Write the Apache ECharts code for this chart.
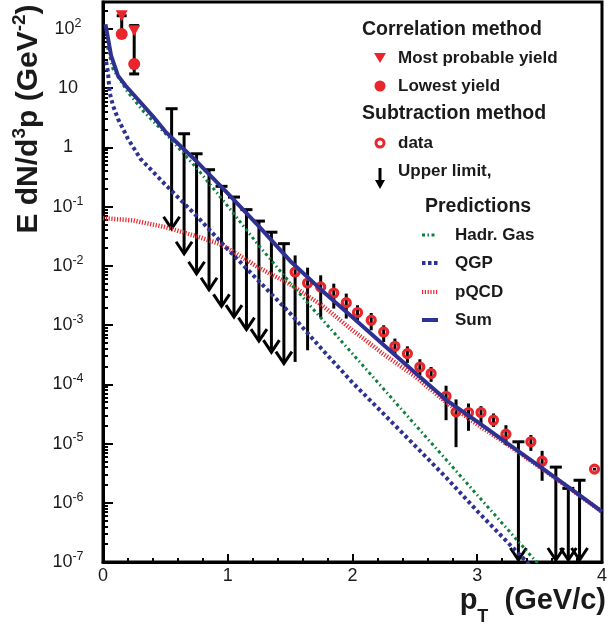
<!DOCTYPE html>
<html><head><meta charset="utf-8">
<script src="https://cdn.jsdelivr.net/npm/echarts@6/dist/echarts.min.js"></script>
<style>html,body{margin:0;padding:0;background:#fff}#c{width:610px;height:626px}</style>
</head><body><div id="c"></div>
<script>
// ---------------- data ----------------
const xTickLabels = ['0', '1', '2', '3', '4'];
const yTickExponents = [-7, -6, -5, -4, -3, -2, -1, 0, 1, 2];

// Correlation method
const corrPt = [0.15, 0.25];
const corrMostProbable = [167, 93.6];
const corrLowest = [82.4, 25.7];
const corrErrLow = [82.4, 17.4];
const corrErrHigh = [167, 114];

// Subtraction method: upper limits
const ulPt = [0.55, 0.65, 0.75, 0.85, 0.95, 1.05, 1.15, 1.25, 1.35, 1.45, 3.33, 3.63, 3.73, 3.82];
const ulVal = [4.5, 1.7, 0.78, 0.42, 0.22, 0.145, 0.089, 0.057, 0.037, 0.0237, 1.07e-5, 4.0e-6, 1.75e-6, 2.4e-6];

// Subtraction method: data
const subPt = [1.54, 1.64, 1.745, 1.85, 1.95, 2.04, 2.15, 2.25, 2.34, 2.44, 2.54, 2.63, 2.75, 2.83, 2.93, 3.03, 3.13, 3.23, 3.43, 3.52, 3.94];
const subVal = [7.87e-3, 5.13e-3, 4.40e-3, 3.48e-3, 2.39e-3, 1.63e-3, 1.21e-3, 7.66e-4, 4.38e-4, 3.30e-4, 1.96e-4, 1.52e-4, 6.29e-5, 3.43e-5, 3.34e-5, 3.34e-5, 2.48e-5, 1.44e-5, 1.07e-5, 5.04e-6, 3.70e-6];
const subErrLow = [2.39e-4, 3.76e-4, 1.34e-3, 1.90e-3, 1.29e-3, 1.13e-3, 8.17e-4, 5.19e-4, 3.10e-4, 2.30e-4, 1.42e-4, 1.10e-4, 2.48e-5, 8.69e-6, 1.64e-5, 2.18e-5, 1.91e-5, 9.4e-6, 7.53e-6, 2.35e-6, 3.5e-6];
const subErrHigh = [1.50e-2, 9.33e-3, 6.92e-3, 5.01e-3, 3.40e-3, 2.16e-3, 1.60e-3, 9.93e-4, 5.91e-4, 4.38e-4, 2.65e-4, 1.96e-4, 9.46e-5, 5.56e-5, 4.74e-5, 4.28e-5, 3.22e-5, 2.04e-5, 1.39e-5, 7.53e-6, 3.9e-6];

// Predictions
const hadrPt = [0.035, 0.08, 0.2, 0.33, 0.5, 0.75, 1.0, 1.25, 1.5, 1.75, 2.0, 2.25, 2.5, 2.75, 3.0, 3.25, 3.5, 3.6];
const hadrVal = [50, 21.1, 8.53, 3.93, 1.72, 0.45, 0.102, 0.0219, 5.16e-3, 1.30e-3, 3.28e-4, 8.30e-5, 2.10e-5, 5.36e-6, 1.35e-6, 3.43e-7, 8.7e-8, 5e-8];

const qgpPt = [0.025, 0.04, 0.053, 0.08, 0.12, 0.2, 0.3, 0.5, 0.75, 1.0, 1.25, 1.5, 1.75, 2.0, 2.25, 2.5, 2.75, 3.0, 3.25, 3.5];
const qgpVal = [28, 18.5, 8.5, 5.09, 3.04, 1.40, 0.643, 0.235, 0.0697, 0.019, 5.5e-3, 1.58e-3, 4.02e-4, 1.07e-4, 3.16e-5, 9.25e-6, 2.68e-6, 7.24e-7, 2.08e-7, 6e-8];

const pqcdPt = [0.0, 0.24, 0.5, 0.77, 0.93, 1.0, 1.24, 1.5, 1.75, 2.0, 2.25, 2.5, 2.75, 3.0, 3.25, 3.5, 3.75, 4.0];
const pqcdVal = [0.064, 0.0585, 0.0451, 0.0306, 0.0237, 0.0198, 9.55e-3, 4.87e-3, 2.20e-3, 8.2e-4, 3.22e-4, 1.37e-4, 5.0e-5, 2.1e-5, 9.4e-6, 4.0e-6, 1.7e-6, 7.0e-7];

const sumPt = [0.02, 0.065, 0.12, 0.18, 0.3, 0.4, 0.5, 0.75, 1.0, 1.25, 1.5, 1.75, 2.0, 2.25, 2.5, 2.75, 3.0, 3.25, 3.5, 3.75, 4.0];
const sumVal = [120, 35.5, 16.3, 11.1, 5.78, 3.35, 1.85, 0.583, 0.167, 0.0463, 0.0121, 3.93e-3, 1.35e-3, 4.63e-4, 1.59e-4, 5.48e-5, 2.34e-5, 9.82e-6, 4.11e-6, 1.72e-6, 7.1e-7];

// ---------------- style ----------------
const FONT = '"Liberation Sans", Arial, Helvetica, sans-serif';
const RED = '#e8262b', BLUE = '#2e3192', GREEN = '#0f7f3f', INK = '#1a1a1a';
const Y_MIN = 1e-7, Y_MAX = 285;

const zip = (a, b) => a.map((v, i) => [v, b[i]]);
const minorY = [];
yTickExponents.forEach(e => { for (let m = 2; m <= 9; m++) { const v = m * Math.pow(10, e); if (v < Y_MAX) minorY.push(v); } });

function yLabel(v) {
  const l = Math.log10(v), e = Math.round(l);
  if (Math.abs(l - e) > 1e-6 || yTickExponents.indexOf(e) < 0) return '';
  if (e === 0) return '{b|1}';
  if (e === 1) return '{b|10}';
  return '{b|10}{s|' + e + '}';
}

const chart = echarts.init(document.getElementById('c'));

function renderErr(params, api) {
  const x = api.value(0);
  const a = api.coord([x, api.value(1)]);
  const b = api.coord([x, api.value(2)]);
  const cap = api.value(3);
  const st = { stroke: '#000', lineWidth: 3, fill: null };
  const ch = [{ type: 'line', shape: { x1: a[0], y1: a[1], x2: b[0], y2: b[1] }, style: st }];
  if (cap > 0) {
    ch.push({ type: 'line', shape: { x1: a[0] - cap, y1: a[1], x2: a[0] + cap, y2: a[1] }, style: st });
    ch.push({ type: 'line', shape: { x1: b[0] - cap, y1: b[1], x2: b[0] + cap, y2: b[1] }, style: st });
  }
  return { type: 'group', children: ch };
}

function renderUL(params, api) {
  const p = api.coord([api.value(0), api.value(1)]);
  const cs = params.coordSys;
  const bottom = cs.y + cs.height - 2;
  const tip = Math.min(p[1] + 120, bottom);
  const st = { stroke: '#000', lineWidth: 3, fill: null, lineJoin: 'miter' };
  return { type: 'group', children: [
    { type: 'line', shape: { x1: p[0] - 6, y1: p[1], x2: p[0] + 6, y2: p[1] }, style: st },
    { type: 'line', shape: { x1: p[0], y1: p[1], x2: p[0], y2: tip }, style: st },
    { type: 'polyline', shape: { points: [[p[0] - 8, tip - 12], [p[0], tip], [p[0] + 8, tip - 12]] }, style: st }
  ] };
}

// legend graphics
const g = [];
function txt(x, y, s, size, align) {
  g.push({ type: 'text', x: x, y: y, silent: true, style: { text: s, font: 'bold ' + size + 'px ' + FONT, fill: INK, align: align || 'left', verticalAlign: 'middle', textAlign: align || 'left', textVerticalAlign: 'middle' } });
}
txt(362, 30, 'Correlation method', 19.5);
g.push({ type: 'polygon', shape: { points: [[374, 53], [386, 53], [380, 63]] }, style: { fill: RED } });
txt(398, 58, 'Most probable yield', 17);
g.push({ type: 'circle', shape: { cx: 380, cy: 86, r: 5.5 }, style: { fill: RED } });
txt(398, 86, 'Lowest yield', 17);
txt(362, 114, 'Subtraction method', 19.5);
g.push({ type: 'circle', shape: { cx: 380, cy: 143, r: 4 }, style: { fill: null, stroke: RED, lineWidth: 3 } });
txt(398, 143, 'data', 17);
g.push({ type: 'line', shape: { x1: 380, y1: 168, x2: 380, y2: 182 }, style: { stroke: '#000', lineWidth: 3 } });
g.push({ type: 'polygon', shape: { points: [[375, 180], [385, 180], [380, 189]] }, style: { fill: '#000' } });
txt(398, 171, 'Upper limit,', 17);
txt(425, 207, 'Predictions', 19.5);
g.push({ type: 'line', shape: { x1: 422, y1: 235, x2: 437, y2: 235 }, style: { stroke: GREEN, lineWidth: 3, lineDash: [3, 2.5, 1.5, 2.5] } });
txt(455, 235, 'Hadr. Gas', 17);
g.push({ type: 'line', shape: { x1: 422, y1: 263, x2: 438, y2: 263 }, style: { stroke: BLUE, lineWidth: 4, lineDash: [3.5, 2.5] } });
txt(455, 263, 'QGP', 17);
g.push({ type: 'line', shape: { x1: 422, y1: 292, x2: 438, y2: 292 }, style: { stroke: RED, lineWidth: 4, lineDash: [1.2, 1.6] } });
txt(455, 292, 'pQCD', 17);
g.push({ type: 'line', shape: { x1: 422, y1: 320, x2: 438, y2: 320 }, style: { stroke: BLUE, lineWidth: 4 } });
txt(455, 320, 'Sum', 17);

// axis titles
g.push({ type: 'text', x: 29, y: 119, rotation: Math.PI / 2, silent: true, style: {
  text: '{b|E dN/d}{s|3}{b|p (GeV}{s|-2}{b|)}', align: 'center', verticalAlign: 'middle', textAlign: 'center', textVerticalAlign: 'middle',
  rich: { b: { font: 'bold 30px ' + FONT, fill: INK, color: INK, lineHeight: 38 }, s: { font: 'bold 19px ' + FONT, fill: INK, color: INK, lineHeight: 19, verticalAlign: 'top' } } } });
g.push({ type: 'text', x: 606, y: 601, silent: true, style: {
  text: '{b|p}{t|T}{b|  (GeV/c)}', align: 'right', verticalAlign: 'middle', textAlign: 'right', textVerticalAlign: 'middle',
  rich: { b: { font: 'bold 29px ' + FONT, fill: INK, color: INK, lineHeight: 50 }, t: { font: 'bold 18px ' + FONT, fill: INK, color: INK, lineHeight: 18, verticalAlign: 'bottom' } } } });

const option = {
  animation: false,
  backgroundColor: '#fff',
  grid: { left: 103, right: 4, top: 2, bottom: 64, show: true, borderColor: '#000', borderWidth: 3, backgroundColor: 'rgba(0,0,0,0)' },
  xAxis: {
    type: 'value', min: 0, max: 4, interval: 1,
    axisLine: { show: true, onZero: false, lineStyle: { color: '#000', width: 3 } },
    axisTick: { show: true, inside: true, length: 8, lineStyle: { color: '#000', width: 2 } },
    minorTick: { show: true, splitNumber: 5, length: 4, lineStyle: { color: '#000', width: 2 } },
    splitLine: { show: false }, minorSplitLine: { show: false },
    axisLabel: { margin: 5, fontFamily: FONT, fontSize: 18, color: INK, formatter: v => xTickLabels[Math.round(v)] !== undefined ? xTickLabels[Math.round(v)] : '' }
  },
  yAxis: [{
    type: 'log', logBase: 10, min: Y_MIN, max: Y_MAX,
    axisLine: { show: true, onZero: false, lineStyle: { color: '#000', width: 3 } },
    axisTick: { show: true, inside: true, length: 10, lineStyle: { color: '#000', width: 2 } },
    splitLine: { show: false },
    axisLabel: { margin: 35, align: 'center', showMaxLabel: false, fontFamily: FONT, color: INK, formatter: yLabel,
      rich: { b: { fontFamily: FONT, fontSize: 18, color: INK, lineHeight: 24 }, s: { fontFamily: FONT, fontSize: 12.5, color: INK, lineHeight: 12, verticalAlign: 'top' } } }
  }, {
    type: 'log', logBase: 10, min: Y_MIN, max: Y_MAX, position: 'left',
    axisLine: { show: false }, splitLine: { show: false },
    axisLabel: { show: false, customValues: minorY },
    axisTick: { show: true, inside: true, length: 5, customValues: minorY, lineStyle: { color: '#000', width: 2 } }
  }],
  graphic: g,
  series: [
    { type: 'custom', name: 'corrErr', renderItem: renderErr, z: 3, clip: true,
      data: corrPt.map((x, i) => [x, corrErrLow[i], corrErrHigh[i], 5]) },
    { type: 'custom', name: 'subErr', renderItem: renderErr, z: 3, clip: true,
      data: subPt.map((x, i) => [x, subErrLow[i], subErrHigh[i], 0]) },
    { type: 'custom', name: 'upperLimit', renderItem: renderUL, z: 3, clip: false,
      data: zip(ulPt, ulVal) },
    { type: 'scatter', name: 'data', data: zip(subPt, subVal), symbol: 'circle', symbolSize: 8, z: 4,
      itemStyle: { color: 'rgba(0,0,0,0)', borderColor: RED, borderWidth: 3.2, opacity: 1 } },
    { type: 'scatter', name: 'Lowest yield', data: zip(corrPt, corrLowest), symbol: 'circle', symbolSize: 12, z: 4,
      itemStyle: { color: RED, opacity: 1 } },
    { type: 'scatter', name: 'Most probable yield', data: zip(corrPt, corrMostProbable), symbol: 'triangle', symbolRotate: 180, symbolSize: [12, 11], z: 4,
      itemStyle: { color: RED, opacity: 1 } },
    { type: 'line', name: 'pQCD', data: zip(pqcdPt, pqcdVal), symbol: 'none', smooth: false, z: 5,
      lineStyle: { color: RED, width: 4.5, type: [1.2, 1.6] } },
    { type: 'line', name: 'QGP', data: zip(qgpPt, qgpVal), symbol: 'none', smooth: false, z: 5,
      lineStyle: { color: BLUE, width: 4, type: [3.5, 3] } },
    { type: 'line', name: 'Hadr. Gas', data: zip(hadrPt, hadrVal), symbol: 'none', smooth: false, z: 5,
      lineStyle: { color: GREEN, width: 3, type: [3, 3, 1.5, 3] } },
    { type: 'line', name: 'Sum', data: zip(sumPt, sumVal), symbol: 'none', smooth: false, z: 6,
      lineStyle: { color: BLUE, width: 4 } }
  ]
};
chart.setOption(option);
</script></body></html>
